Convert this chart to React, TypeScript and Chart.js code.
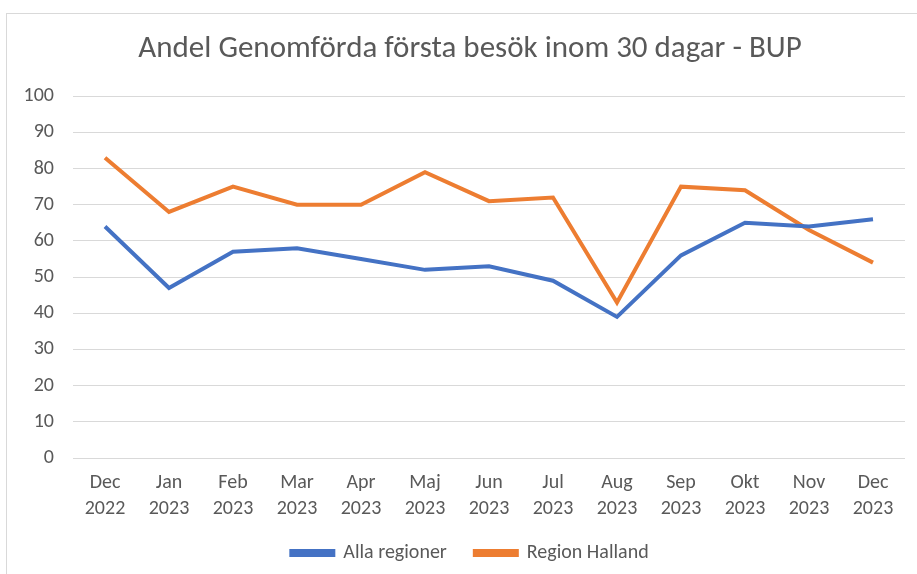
import React, { useEffect, useRef } from "react";
import { Chart, registerables } from "chart.js";

Chart.register(...registerables);

const months = ["Dec", "Jan", "Feb", "Mar", "Apr", "Maj", "Jun", "Jul", "Aug", "Sep", "Okt", "Nov", "Dec"];
const years = ["2022", "2023", "2023", "2023", "2023", "2023", "2023", "2023", "2023", "2023", "2023", "2023", "2023"];
const allaRegioner = [64, 47, 57, 58, 55, 52, 53, 49, 39, 56, 65, 64, 66];
const regionHalland = [83, 68, 75, 70, 70, 79, 71, 72, 43, 75, 74, 63, 54];
const titleText = "Andel Genomförda första besök inom 30 dagar - BUP";

const FONT = "Carlito, Lato, 'Open Sans', sans-serif";

export default function App() {
  const ref = useRef<HTMLCanvasElement | null>(null);
  useEffect(() => {
    if (!ref.current) return;
    const labels = months.map((m, i) => [m, years[i]]);
    const chart = new Chart(ref.current, {
      type: "line",
      data: {
        labels,
        datasets: [
          {
            label: "Alla regioner",
            data: allaRegioner,
            borderColor: "#4472C4",
            backgroundColor: "#4472C4",
            borderWidth: 4,
            pointRadius: 0,
            tension: 0,
          },
          {
            label: "Region Halland",
            data: regionHalland,
            borderColor: "#ED7D31",
            backgroundColor: "#ED7D31",
            borderWidth: 4,
            pointRadius: 0,
            tension: 0,
          },
        ],
      },
      options: {
        animation: false,
        responsive: false,
        maintainAspectRatio: false,
        layout: { padding: { left: 0, right: 0, top: 0, bottom: 1 } },
        plugins: {
          title: {
            display: true,
            text: titleText,
            color: "#595959",
            font: { family: FONT, size: 31, weight: "normal" },
            padding: { top: 31, bottom: 28 },
          },
          legend: {
            position: "bottom",
            labels: {
              color: "#595959",
              font: { family: FONT, size: 20 },
              boxWidth: 42,
              boxHeight: 4,
              padding: 28,
            },
          },
          tooltip: { enabled: false },
        },
        scales: {
          x: {
            offset: true,
            grid: { display: false, drawTicks: false },
            border: { display: false },
            ticks: {
              color: "#595959",
              font: { family: FONT, size: 20, lineHeight: 1.3 },
              maxRotation: 0,
              autoSkip: false,
              padding: 12,
            },
            afterFit: (s: any) => {
              s.height = 57;
            },
          },
          y: {
            min: 0,
            max: 100,
            grid: { color: "#d9d9d9", lineWidth: 1, drawTicks: false },
            border: { display: false },
            ticks: {
              stepSize: 10,
              color: "#595959",
              font: { family: FONT, size: 20 },
              padding: 19,
            },
            afterFit: (s: any) => {
              s.width = 73;
            },
          },
          yRightSpacer: {
            type: "linear",
            position: "right",
            display: true,
            grid: { display: false, drawTicks: false },
            border: { display: false },
            ticks: { display: false },
            afterFit: (s: any) => {
              s.width = 35;
            },
          },
        },
      },
    });
    return () => chart.destroy();
  }, []);
  return (
    <div style={{ position: "absolute", left: 0, top: 0, width: 917, height: 574, background: "#fff", overflow: "hidden" }}>
      <div style={{ position: "absolute", left: 6, top: 13, width: 930, height: 600, border: "1px solid #d9d9d9", boxSizing: "border-box" }} />
      <canvas ref={ref} width={940} height={574} style={{ position: "absolute", left: 0, top: 0 }} />
    </div>
  );
}
